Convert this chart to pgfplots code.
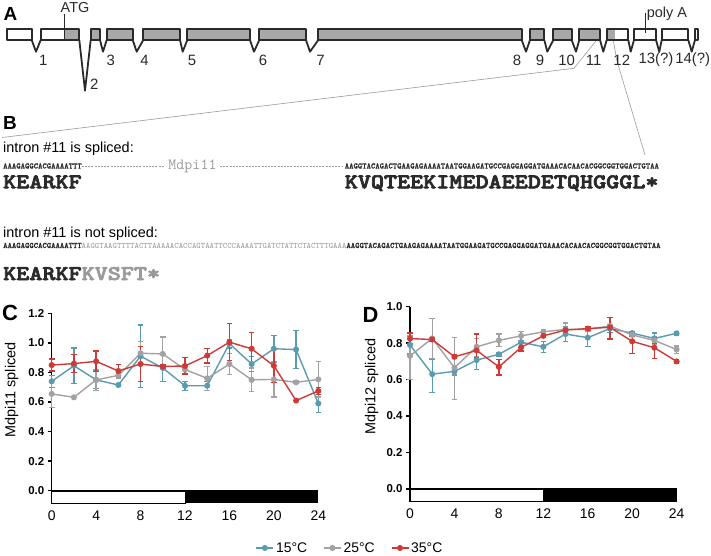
\documentclass[border=0pt]{standalone}
\usepackage{fontspec}
\setmainfont{Liberation Sans}
\newfontfamily\protfont[FakeBold=3]{lmmonolt10-bold.otf}
\newfontfamily\seqfont[FakeBold=1]{lmmonolt10-bold.otf}
\usepackage{graphicx}
\usepackage{pgfplots}
\pgfplotsset{compat=1.18}
\usepackage{pgfplotstable}

\definecolor{c15}{HTML}{5A9BB0}
\definecolor{c25}{HTML}{A2A2A2}
\definecolor{c35}{HTML}{D03A36}
\definecolor{exgray}{HTML}{A8A8A8}
\definecolor{genel}{HTML}{2A2A2A}
\definecolor{seqgray}{HTML}{9A9A9A}

% panel C: Mdpi11
\pgfplotstableread{
x y ep em
0 0.740 0.040 0.040
2 0.845 0.120 0.120
4 0.750 0.060 0.060
6 0.715 0.010 0.010
8 0.910 0.210 0.210
10 0.830 0.090 0.090
12 0.710 0.030 0.030
14 0.710 0.030 0.030
16 0.995 0.030 0.030
18 0.857 0.050 0.050
20 0.960 0.090 0.090
22 0.955 0.130 0.130
24 0.590 0.060 0.060
}\cBlue
\pgfplotstableread{
x y ep em
0 0.655 0.090 0.090
2 0.632 0.000 0.000
4 0.750 0.070 0.070
6 0.780 0.020 0.020
8 0.930 0.080 0.080
10 0.925 0.115 0.090
12 0.820 0.030 0.030
14 0.760 0.080 0.080
16 0.857 0.070 0.070
18 0.750 0.080 0.080
20 0.753 0.120 0.120
22 0.733 0.010 0.010
24 0.753 0.120 0.120
}\cGray
\pgfplotstableread{
x y ep em
0 0.850 0.040 0.040
2 0.860 0.060 0.060
4 0.875 0.070 0.070
6 0.810 0.045 0.045
8 0.857 0.120 0.120
10 0.840 0.010 0.010
12 0.844 0.055 0.055
14 0.914 0.050 0.050
16 1.005 0.125 0.125
18 0.960 0.110 0.110
20 0.845 0.115 0.115
22 0.610 0.000 0.000
24 0.675 0.025 0.025
}\cRed

% panel D: Mdpi12
\pgfplotstableread{
x y ep em
0 0.790 0.050 0.050
2 0.630 0.080 0.100
4 0.645 0.020 0.020
6 0.707 0.050 0.050
8 0.739 0.010 0.010
10 0.805 0.030 0.030
12 0.780 0.030 0.030
14 0.850 0.040 0.040
16 0.830 0.050 0.050
18 0.880 0.020 0.020
20 0.855 0.010 0.010
22 0.826 0.030 0.030
24 0.854 0.010 0.010
}\dBlue
\pgfplotstableread{
x y ep em
0 0.730 0.110 0.130
2 0.826 0.110 0.110
4 0.665 0.165 0.175
6 0.780 0.045 0.055
8 0.815 0.035 0.035
10 0.840 0.025 0.025
12 0.862 0.010 0.010
14 0.876 0.035 0.030
16 0.876 0.010 0.010
18 0.894 0.010 0.010
20 0.845 0.010 0.010
22 0.815 0.020 0.020
24 0.765 0.020 0.020
}\dGray
\pgfplotstableread{
x y ep em
0 0.825 0.030 0.030
2 0.820 0.010 0.010
4 0.725 0.010 0.010
6 0.760 0.090 0.040
8 0.670 0.040 0.045
10 0.777 0.020 0.020
12 0.840 0.010 0.010
14 0.872 0.010 0.010
16 0.880 0.010 0.010
18 0.887 0.055 0.065
20 0.810 0.030 0.065
22 0.775 0.025 0.060
24 0.700 0.010 0.010
}\dRed

\pgfplotsset{
  panel/.style={
    scale only axis, width=266.6bp,
    axis lines=left, axis line style={-, line width=1.5bp},
    x axis line style={draw=none},
    xmin=0, xmax=24, xtick={0,4,...,24},
    x tick style={draw=none},
    y tick style={line width=1.5bp, black},
    tick align=outside, major tick length=4bp,
    yticklabel style={font=\fontsize{11.5}{13}\selectfont\bfseries,
      /pgf/number format/.cd, fixed, fixed zerofill, precision=1, assume math mode=true},
    xticklabel style={font=\fontsize{14}{16}\selectfont,
      /pgf/number format/assume math mode=true},
    ylabel style={font=\fontsize{14.5}{16}\selectfont, rotate=0, anchor=center},
    clip=false,
  },
  ser/.style={line width=1.4bp, color=#1, mark=*, mark size=2.3bp,
    mark options={fill=#1, draw=#1},
    error bars/.cd, y dir=both, y explicit,
    error bar style={line width=1.3bp},
    error mark options={rotate=90, line width=1.3bp, mark size=2.8bp}},
}

\begin{document}
\begin{tikzpicture}
\useasboundingbox (0,0) rectangle (711bp,-556bp);
\begin{scope}[x=1bp,y=-1bp]
  % panel letters
  \node[font=\fontsize{19}{20}\selectfont\bfseries] at (10.5,13.5) {A};
  \node[font=\fontsize{19}{20}\selectfont\bfseries] at (10,122.5) {B};
  \node[font=\fontsize{22}{24}\selectfont\bfseries] at (10,312.5) {C};
  \node[font=\fontsize{22}{24}\selectfont\bfseries] at (370.5,315) {D};

  % zoom lines
  \draw[seqgray, line width=0.6bp] (596.7,40) -- (574,68.3) -- (2,137.5);
  \draw[seqgray, line width=0.6bp] (613.3,40) -- (616.7,60) -- (645,155);

  % gene model: exon fills
  \fill[white] (6.7,29.3) rectangle (31.7,40);
  \fill[white] (40.7,29.3) rectangle (64,40);
  \fill[exgray] (64,29.3) rectangle (79.3,40);
  \fill[exgray] (90.7,29.3) rectangle (100,40);
  \fill[exgray] (106.7,29.3) rectangle (132.7,40);
  \fill[exgray] (143.3,29.3) rectangle (180,40);
  \fill[exgray] (187.3,29.3) rectangle (250,40);
  \fill[exgray] (259.3,29.3) rectangle (306,40);
  \fill[exgray] (318.3,29.3) rectangle (521.7,40);
  \fill[exgray] (530,29.3) rectangle (544.3,40);
  \fill[exgray] (553.3,29.3) rectangle (571.7,40);
  \fill[exgray] (579.3,29.3) rectangle (600,40);
  \fill[exgray] (606.7,29.3) rectangle (615,40);
  \begin{scope}[genel, line width=1.8bp, line join=round]
    \draw (6.7,29.3) rectangle (31.7,40);
    \draw (40.7,29.3) rectangle (79.3,40);
    \draw (90.7,29.3) rectangle (100,40);
    \draw (106.7,29.3) rectangle (132.7,40);
    \draw (143.3,29.3) rectangle (180,40);
    \draw (187.3,29.3) rectangle (250,40);
    \draw (259.3,29.3) rectangle (306,40);
    \draw (318.3,29.3) rectangle (521.7,40);
    \draw (530,29.3) rectangle (544.3,40);
    \draw (553.3,29.3) rectangle (571.7,40);
    \draw (579.3,29.3) rectangle (600,40);
    \draw (606.7,29.3) rectangle (628.3,40);
    \draw (634,29.3) rectangle (656,40);
    \draw (661.7,29.3) rectangle (688.3,40);
    \draw (695,29.3) rectangle (698.3,40);
    % introns
    \draw (31.7,40) -- (36,51.7) -- (40.7,40);
    \draw (79.3,40) -- (85,90.7) -- (90.7,40);
    \draw (100,40) -- (103,51.7) -- (106.7,40);
    \draw (132.7,40) -- (136.7,51.7) -- (143.3,40);
    \draw (180,40) -- (182.7,51.7) -- (187.3,40);
    \draw (250,40) -- (254,51.7) -- (259.3,40);
    \draw (306,40) -- (310,51.7) -- (318.3,40);
    \draw (521.7,40) -- (526,51.7) -- (530,40);
    \draw (544.3,40) -- (547.3,51.7) -- (553.3,40);
    \draw (571.7,40) -- (576,51.7) -- (579.3,40);
    \draw (600,40) -- (603.3,51.7) -- (606.7,40);
    \draw (628.3,40) -- (630.7,51.7) -- (634,40);
    \draw (656,40) -- (659.3,51.7) -- (661.7,40);
    \draw (688.3,40) -- (691.7,51.7) -- (695,40);
  \end{scope}
  \draw[genel, line width=1bp] (64,14) -- (64,40);
  \draw[genel, line width=1bp] (645,13) -- (645,33);
  \node[font=\fontsize{14.5}{16}\selectfont, color=genel] at (75,8) {ATG};
  \node[font=\fontsize{14.5}{16}\selectfont, color=genel] at (667,14) {poly A};

  % intron numbers
  \begin{scope}[font=\fontsize{15}{17}\selectfont, color=genel]
    \node at (43.3,60) {1};
    \node at (94.2,84) {2};
    \node at (110.8,60) {3};
    \node at (144.5,60) {4};
    \node at (192,60) {5};
    \node at (263,60) {6};
    \node at (320.5,60) {7};
    \node at (517,60) {8};
    \node at (540,60) {9};
    \node at (566.7,60) {10};
    \node at (593.7,60) {11};
    \node at (621.8,60) {12};
    \node at (656,60) {13(?)};
    \node at (692.7,60) {14(?)};
  \end{scope}

  % panel B text
  \node[anchor=base west, inner sep=0, font=\fontsize{14.5}{16}\selectfont] at (3,152.7) {intron \#11 is spliced:};
  \node[anchor=base west, inner sep=0, font=\fontsize{8.34}{9}\selectfont\seqfont, color=genel] at (3,168.5) {AAAGAGGCACGAAAATTT};
  \draw[seqgray, line width=0.5bp, dash pattern=on 2bp off 1.2bp] (81.8,166) -- (165,166);
  \draw[seqgray, line width=0.5bp, dash pattern=on 2bp off 1.2bp] (220,166) -- (343,166);
  \node[font=\fontsize{15.6}{17}\selectfont\ttfamily, color=seqgray] at (192.5,166) {Mdpi11};
  \node[anchor=base west, inner sep=0, font=\fontsize{8.34}{9}\selectfont\seqfont, color=genel] at (344.6,168.5) {AAGGTACAGACTGAAGAGAAAATAATGGAAGATGCCGAGGAGGATGAAACACAACACGGCGGTGGACTGTAA};
  \node[anchor=base west, inner sep=0, color=genel] at (3,188.3) {\scalebox{1.19}[1]{\fontsize{21}{22}\selectfont\protfont KEARKF}};
  \node[anchor=base west, inner sep=0, color=genel] at (344.6,188.3) {\scalebox{1.19}[1]{\fontsize{21}{22}\selectfont\protfont KVQTEEKIMEDAEEDETQHGGGL*}};

  \node[anchor=base west, inner sep=0, font=\fontsize{14.5}{16}\selectfont] at (3,237.3) {intron \#11 is not spliced:};
  \node[anchor=base west, inner sep=0, font=\fontsize{8.34}{9}\selectfont, color=genel] at (3,248) {{\seqfont AAAGAGGCACGAAAATTT}{\ttfamily\color{seqgray}AAGGTAAGTTTTACTTAAAAACACCAGTAATTCCCAAAATTGATCTATTCTACTTTGAAA}{\seqfont AAGGTACAGACTGAAGAGAAAATAATGGAAGATGCCGAGGAGGATGAAACACAACACGGCGGTGGACTGTAA}};
  \node[anchor=base west, inner sep=0] at (3,280) {\scalebox{1.19}[1]{\fontsize{21}{22}\selectfont\protfont\textcolor{genel}{KEARKF}\textcolor{seqgray}{KVSFT*}}};
\end{scope}

% panel C
\begin{axis}[panel, at={(51.7bp,-503.3bp)}, anchor=south west,
  height=190bp, ymin=-0.085, ymax=1.2, ytick={0,0.2,...,1.2},
  ylabel={Mdpi11 spliced},
  ylabel style={at={(axis description cs:-0.15,0.596)}},
  legend columns=3,
  legend style={draw=none, fill=none, at={(1.119,-0.235)}, anchor=center,
    font=\fontsize{14}{16}\selectfont,
    /tikz/every even column/.append style={column sep=14bp}},
]
\draw[black, line width=1bp, fill=white] (axis cs:0,-0.085) rectangle (axis cs:12,0);
\fill[black] (axis cs:12,-0.085) rectangle (axis cs:24,0);
\draw[black, line width=2bp] (axis cs:0,0) -- (axis cs:24,0);
\addplot[ser=c15] table[x=x, y=y, y error plus=ep, y error minus=em] {\cBlue};
\addlegendentry{15°C}
\addplot[ser=c25] table[x=x, y=y, y error plus=ep, y error minus=em] {\cGray};
\addlegendentry{25°C}
\addplot[ser=c35] table[x=x, y=y, y error plus=ep, y error minus=em] {\cRed};
\addlegendentry{35°C}
\end{axis}

% panel D
\begin{axis}[panel, at={(410bp,-501.7bp)}, anchor=south west,
  height=195bp, ymin=-0.07, ymax=1.0, ytick={0,0.2,...,1.0},
  ylabel={Mdpi12 spliced},
  ylabel style={at={(axis description cs:-0.144,0.59)}},
]
\draw[black, line width=1bp, fill=white] (axis cs:0,-0.07) rectangle (axis cs:12,0);
\fill[black] (axis cs:12,-0.07) rectangle (axis cs:24,0);
\draw[black, line width=2bp] (axis cs:0,0) -- (axis cs:24,0);
\addplot[ser=c15] table[x=x, y=y, y error plus=ep, y error minus=em] {\dBlue};
\addplot[ser=c25] table[x=x, y=y, y error plus=ep, y error minus=em] {\dGray};
\addplot[ser=c35] table[x=x, y=y, y error plus=ep, y error minus=em] {\dRed};
\end{axis}
\end{tikzpicture}
\end{document}
